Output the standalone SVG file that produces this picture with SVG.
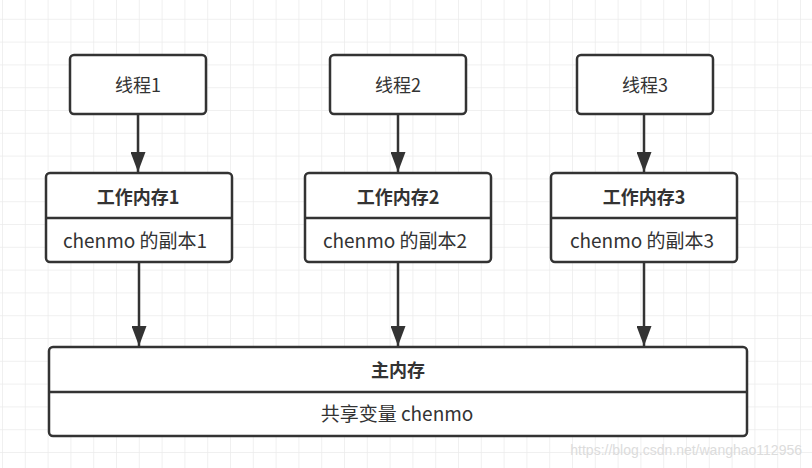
<svg xmlns="http://www.w3.org/2000/svg" width="812" height="468" viewBox="0 0 812 468">
<defs>
<pattern id="grid" x="2" y="-4" width="22.8" height="22.8" patternUnits="userSpaceOnUse">
<path d="M0 0H22.8M0 0V22.8" fill="none" stroke="#ebebeb" stroke-width="1.5"/>
</pattern>
<marker id="arr" viewBox="0 0 8 6" refX="8" refY="3" markerWidth="8" markerHeight="6" markerUnits="strokeWidth" orient="auto">
<path d="M0 0L8 3L0 6z" fill="#333"/>
</marker>
<style>
.box{fill:#fff;stroke:#333;stroke-width:2.5}
.div{stroke:#333;stroke-width:2.5}
.t{font-family:"Microsoft YaHei","Noto Sans CJK SC",sans-serif;font-size:18px;fill:#333;text-anchor:middle}
.s{font-size:19px}
.b{font-weight:bold}
.c{stroke:#333;stroke-width:2.5;fill:none;marker-end:url(#arr)}
</style>
</defs>
<rect width="812" height="468" fill="#fff"/>
<rect width="812" height="468" fill="url(#grid)"/>
<g id="connectors">
<path class="c" d="M138 115V172"/>
<path class="c" d="M398 115V172"/>
<path class="c" d="M644 115V172"/>
<path class="c" d="M139 263V346"/>
<path class="c" d="M398 263V346"/>
<path class="c" d="M644 263V346"/>
</g>
<g id="thread1"><rect class="box" x="70" y="55" width="136" height="59" rx="4"/><text class="t" x="138" y="92">线程1</text></g>
<g id="thread2"><rect class="box" x="330" y="55" width="136" height="59" rx="4"/><text class="t" x="398" y="92">线程2</text></g>
<g id="thread3"><rect class="box" x="577" y="55" width="136" height="59" rx="4"/><text class="t" x="645" y="92">线程3</text></g>
<g id="work1"><rect class="box" x="46" y="173" width="186" height="89" rx="4"/><line class="div" x1="46" y1="218" x2="232" y2="218"/><text class="t b" x="138" y="204">工作内存1</text><text class="t s" x="135" y="248">chenmo 的副本1</text></g>
<g id="work2"><rect class="box" x="305" y="173" width="186" height="89" rx="4"/><line class="div" x1="305" y1="218" x2="491" y2="218"/><text class="t b" x="398" y="204">工作内存2</text><text class="t s" x="395" y="248">chenmo 的副本2</text></g>
<g id="work3"><rect class="box" x="551" y="173" width="186" height="89" rx="4"/><line class="div" x1="551" y1="218" x2="737" y2="218"/><text class="t b" x="644" y="204">工作内存3</text><text class="t s" x="642" y="248">chenmo 的副本3</text></g>
<g id="main"><rect class="box" x="49" y="347" width="698" height="89" rx="4"/><line class="div" x1="49" y1="392" x2="747" y2="392"/><text class="t b" x="398" y="377">主内存</text><text class="t s" x="397" y="421">共享变量 chenmo</text></g>
<text x="802" y="455" font-family="Liberation Sans,Arial,sans-serif" font-size="14" fill="#dcdcdc" text-anchor="end">https://blog.csdn.net/wanghao112956</text>
</svg>
